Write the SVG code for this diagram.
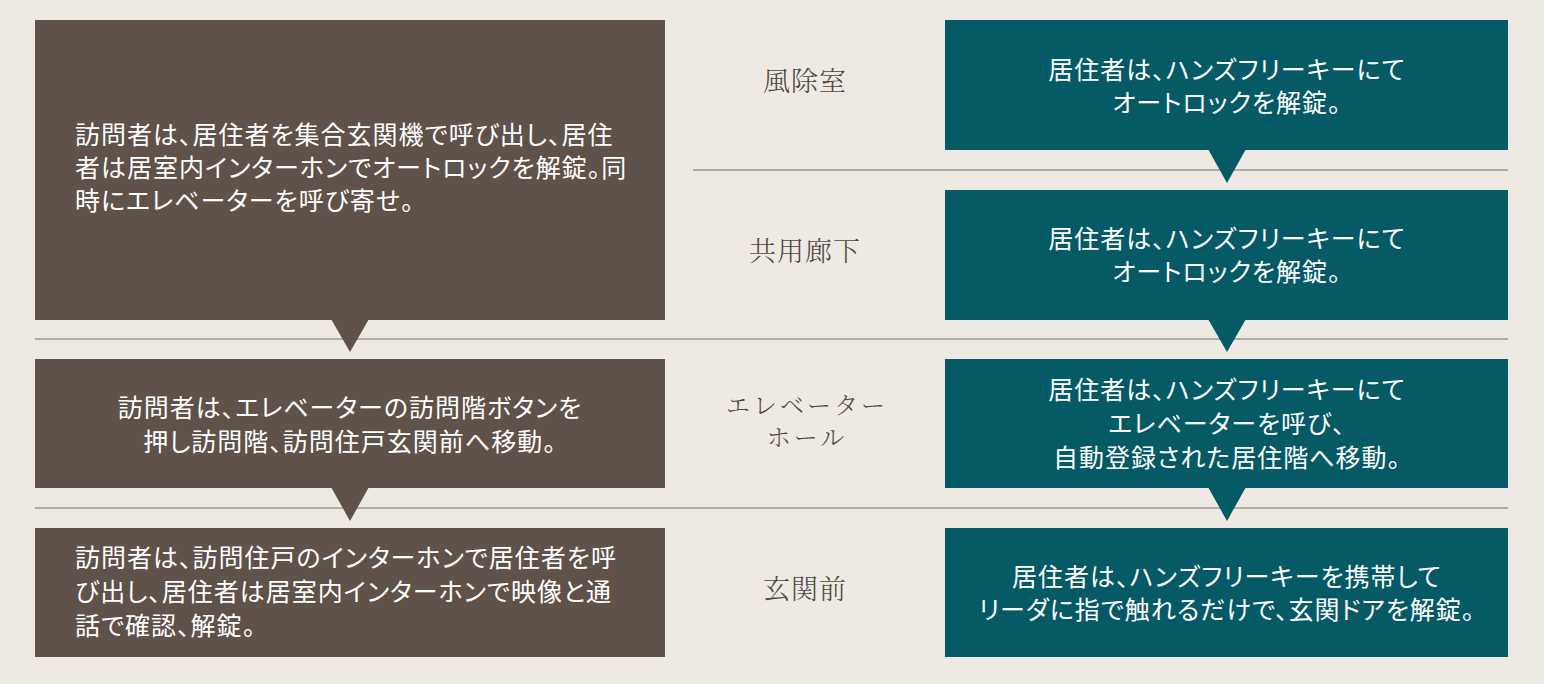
<svg xmlns="http://www.w3.org/2000/svg" width="1544" height="684" viewBox="0 0 1544 684">
<style>
.bg{fill:#eeeae3}
.brown{fill:#5f524a}
.teal{fill:#055a66}
.sep{stroke:#9b9793;stroke-width:1.6;fill:none}
.t{font-family:"Noto Sans CJK JP","Noto Sans CJK SC",sans-serif;font-size:25px;fill:#ffffff;font-feature-settings:"palt";letter-spacing:1px}
.c{text-anchor:middle}
.lab{font-family:"Noto Serif CJK JP","Noto Sans CJK JP",serif;font-size:27px;fill:#4d4845;text-anchor:middle;font-weight:300;letter-spacing:1px}
.lab2{font-size:24px;letter-spacing:3px}
</style>
<rect class="bg" x="0" y="0" width="1544" height="684"/>
<g id="connectors">
<line class="sep" x1="693" y1="170" x2="1508" y2="170"/>
<line class="sep" x1="35" y1="339" x2="1508" y2="339"/>
<line class="sep" x1="35" y1="508" x2="1508" y2="508"/>
</g>
<g id="labels">
<text class="lab" x="805" y="91">風除室</text>
<text class="lab" x="805" y="261">共用廊下</text>
<text class="lab lab2" x="807" y="414">エレベーター</text>
<text class="lab lab2" x="807" y="446">ホール</text>
<text class="lab" x="805" y="599">玄関前</text>
</g>
<g id="visitor1">
<rect class="brown" x="35" y="20" width="630" height="300"/>
<polygon class="brown" points="331,319 369,319 350,352"/>
<text class="t" x="75" y="144">訪問者は、居住者を集合玄関機で呼び出し、居住</text>
<text class="t" x="75" y="177">者は居室内インターホンでオートロックを解錠。同</text>
<text class="t" x="75" y="210">時にエレベーターを呼び寄せ。</text>
</g>
<g id="visitor2">
<rect class="brown" x="35" y="359" width="630" height="129"/>
<polygon class="brown" points="331,487 369,487 350,521"/>
<text class="t c" x="350" y="417">訪問者は、エレベーターの訪問階ボタンを</text>
<text class="t c" x="350" y="451">押し訪問階、訪問住戸玄関前へ移動。</text>
</g>
<g id="visitor3">
<rect class="brown" x="35" y="528" width="630" height="129"/>
<text class="t" x="75" y="567">訪問者は、訪問住戸のインターホンで居住者を呼</text>
<text class="t" x="75" y="601">び出し、居住者は居室内インターホンで映像と通</text>
<text class="t" x="75" y="635">話で確認、解錠。</text>
</g>
<g id="resident1">
<rect class="teal" x="945" y="20" width="563" height="130"/>
<polygon class="teal" points="1208,149 1246,149 1227,183"/>
<text class="t c" x="1227" y="79">居住者は、ハンズフリーキーにて</text>
<text class="t c" x="1227" y="112">オートロックを解錠。</text>
</g>
<g id="resident2">
<rect class="teal" x="945" y="190" width="563" height="130"/>
<polygon class="teal" points="1208,319 1246,319 1227,352"/>
<text class="t c" x="1227" y="248">居住者は、ハンズフリーキーにて</text>
<text class="t c" x="1227" y="281">オートロックを解錠。</text>
</g>
<g id="resident3">
<rect class="teal" x="945" y="359" width="563" height="129"/>
<polygon class="teal" points="1208,487 1246,487 1227,521"/>
<text class="t c" x="1227" y="399">居住者は、ハンズフリーキーにて</text>
<text class="t c" x="1227" y="433">エレベーターを呼び、</text>
<text class="t c" x="1227" y="467">自動登録された居住階へ移動。</text>
</g>
<g id="resident4">
<rect class="teal" x="945" y="528" width="563" height="129"/>
<text class="t c" x="1227" y="586">居住者は、ハンズフリーキーを携帯して</text>
<text class="t c" x="1227" y="619">リーダに指で触れるだけで、玄関ドアを解錠。</text>
</g>
</svg>
